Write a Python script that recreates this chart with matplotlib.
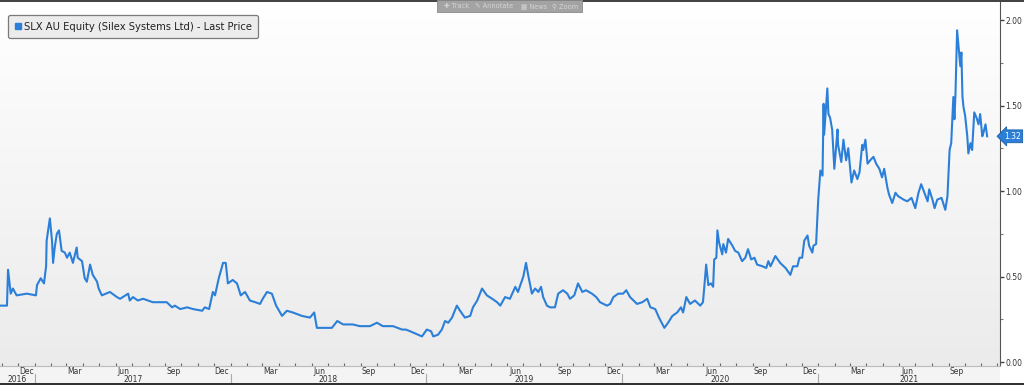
import numpy as np
import pandas as pd
import matplotlib
matplotlib.use('Agg')
import matplotlib.pyplot as plt
import matplotlib.dates as mdates
from matplotlib.colors import LinearSegmentedColormap
from matplotlib.lines import Line2D
from matplotlib.patches import Rectangle
from matplotlib.ticker import MultipleLocator, FormatStrFormatter

# SLX AU Equity last price
dates = [
    '2016-10-28', '2016-11-10', '2016-11-12', '2016-11-17', '2016-11-21', '2016-11-28',
    '2016-12-17', '2017-01-03', '2017-01-05', '2017-01-12', '2017-01-18', '2017-01-22',
    '2017-01-23', '2017-01-29', '2017-02-02', '2017-02-04', '2017-02-07', '2017-02-11',
    '2017-02-15', '2017-02-20', '2017-02-26', '2017-03-02', '2017-03-07', '2017-03-13',
    '2017-03-20', '2017-03-22', '2017-03-30', '2017-04-04', '2017-04-08', '2017-04-14',
    '2017-04-19', '2017-04-27', '2017-04-30', '2017-05-06', '2017-05-21', '2017-06-03',
    '2017-06-09', '2017-06-24', '2017-06-27', '2017-07-03', '2017-07-12', '2017-07-22',
    '2017-08-09', '2017-09-04', '2017-09-14', '2017-09-19', '2017-09-29', '2017-10-12',
    '2017-10-23', '2017-11-09', '2017-11-14', '2017-11-22', '2017-11-29', '2017-12-03',
    '2017-12-10', '2017-12-18', '2017-12-23', '2017-12-27', '2018-01-05', '2018-01-13',
    '2018-01-20', '2018-01-28', '2018-02-06', '2018-02-16', '2018-02-25', '2018-03-02',
    '2018-03-10', '2018-03-19', '2018-03-27', '2018-04-07', '2018-04-16', '2018-04-27',
    '2018-05-14', '2018-05-29', '2018-06-06', '2018-06-11', '2018-06-22', '2018-07-09',
    '2018-07-19', '2018-07-30', '2018-08-17', '2018-08-30', '2018-09-18', '2018-10-01',
    '2018-10-12', '2018-10-31', '2018-11-17', '2018-11-24', '2018-12-02', '2018-12-24',
    '2019-01-02', '2019-01-10', '2019-01-14', '2019-01-23', '2019-01-30', '2019-02-05',
    '2019-02-11', '2019-02-18', '2019-02-27', '2019-03-05', '2019-03-14', '2019-03-24',
    '2019-03-29', '2019-04-06', '2019-04-15', '2019-04-24', '2019-05-04', '2019-05-13',
    '2019-05-19', '2019-05-28', '2019-06-06', '2019-06-16', '2019-06-21', '2019-07-01',
    '2019-07-06', '2019-07-10', '2019-07-17', '2019-07-23', '2019-07-29', '2019-08-03',
    '2019-08-07', '2019-08-14', '2019-08-20', '2019-08-29', '2019-09-04', '2019-09-13',
    '2019-09-21', '2019-09-26', '2019-10-04', '2019-10-11', '2019-10-19', '2019-10-26',
    '2019-11-06', '2019-11-14', '2019-11-21', '2019-12-04', '2019-12-10', '2019-12-16',
    '2019-12-25', '2020-01-03', '2020-01-09', '2020-01-16', '2020-01-29', '2020-02-08',
    '2020-02-17', '2020-02-23', '2020-03-03', '2020-03-10', '2020-03-20', '2020-03-27',
    '2020-04-04', '2020-04-13', '2020-04-20', '2020-04-24', '2020-04-30', '2020-05-07',
    '2020-05-16', '2020-05-26', '2020-05-31', '2020-06-02', '2020-06-06', '2020-06-10',
    '2020-06-15', '2020-06-19', '2020-06-21', '2020-06-25', '2020-06-27', '2020-06-30',
    '2020-07-06', '2020-07-08', '2020-07-13', '2020-07-17', '2020-07-25', '2020-07-30',
    '2020-08-05', '2020-08-12', '2020-08-18', '2020-08-23', '2020-08-29', '2020-09-04',
    '2020-09-09', '2020-09-19', '2020-09-26', '2020-09-30', '2020-10-04', '2020-10-13',
    '2020-10-22', '2020-11-01', '2020-11-10', '2020-11-15', '2020-11-23', '2020-11-27',
    '2020-12-02', '2020-12-06', '2020-12-12', '2020-12-15', '2020-12-21', '2020-12-23',
    '2020-12-28', '2021-01-01', '2021-01-05', '2021-01-09', '2021-01-11', '2021-01-12',
    '2021-01-16', '2021-01-18', '2021-01-20', '2021-01-23', '2021-01-27', '2021-01-31',
    '2021-02-06', '2021-02-07', '2021-02-13', '2021-02-17', '2021-02-22', '2021-02-26',
    '2021-03-04', '2021-03-09', '2021-03-15', '2021-03-19', '2021-03-24', '2021-03-26',
    '2021-03-30', '2021-04-03', '2021-04-08', '2021-04-14', '2021-04-19', '2021-04-25',
    '2021-04-30', '2021-05-04', '2021-05-10', '2021-05-13', '2021-05-19', '2021-05-25',
    '2021-05-30', '2021-06-09', '2021-06-16', '2021-06-24', '2021-07-01', '2021-07-07',
    '2021-07-12', '2021-07-18', '2021-07-24', '2021-07-27', '2021-08-02', '2021-08-06',
    '2021-08-11', '2021-08-19', '2021-08-26', '2021-08-30', '2021-09-03', '2021-09-06',
    '2021-09-10', '2021-09-12', '2021-09-14', '2021-09-17', '2021-09-19', '2021-09-23',
    '2021-09-25', '2021-09-27', '2021-09-29', '2021-10-02', '2021-10-06', '2021-10-08',
    '2021-10-12', '2021-10-15', '2021-10-19', '2021-10-23', '2021-10-27', '2021-10-30',
    '2021-11-03', '2021-11-05', '2021-11-09', '2021-11-12',
]
prices = [
    0.33, 0.33, 0.54, 0.40, 0.43, 0.39,
    0.40, 0.39, 0.45, 0.49, 0.46, 0.56,
    0.71, 0.84, 0.71, 0.58, 0.67, 0.75,
    0.77, 0.65, 0.64, 0.61, 0.64, 0.58,
    0.67, 0.61, 0.59, 0.49, 0.47, 0.57,
    0.51, 0.47, 0.43, 0.39, 0.41, 0.38,
    0.37, 0.40, 0.36, 0.38, 0.36, 0.37,
    0.35, 0.35, 0.32, 0.33, 0.31, 0.32,
    0.31, 0.30, 0.32, 0.31, 0.41, 0.39,
    0.49, 0.58, 0.58, 0.46, 0.48, 0.46,
    0.39, 0.41, 0.36, 0.35, 0.34, 0.37,
    0.41, 0.40, 0.33, 0.27, 0.30, 0.29,
    0.27, 0.26, 0.29, 0.20, 0.20, 0.20,
    0.24, 0.22, 0.22, 0.21, 0.21, 0.23,
    0.21, 0.21, 0.19, 0.19, 0.18, 0.15,
    0.19, 0.18, 0.15, 0.16, 0.19, 0.24,
    0.23, 0.26, 0.33, 0.30, 0.26, 0.27,
    0.32, 0.36, 0.43, 0.39, 0.37, 0.35,
    0.33, 0.38, 0.37, 0.44, 0.41, 0.50,
    0.58, 0.51, 0.40, 0.43, 0.41, 0.44,
    0.38, 0.33, 0.32, 0.32, 0.40, 0.42,
    0.40, 0.37, 0.39, 0.46, 0.41, 0.42,
    0.40, 0.38, 0.35, 0.33, 0.34, 0.38,
    0.40, 0.40, 0.42, 0.38, 0.34, 0.35,
    0.37, 0.32, 0.31, 0.26, 0.20, 0.23,
    0.27, 0.29, 0.32, 0.29, 0.38, 0.34,
    0.36, 0.33, 0.35, 0.42, 0.57, 0.45,
    0.46, 0.44, 0.60, 0.61, 0.77, 0.70,
    0.63, 0.69, 0.64, 0.72, 0.68, 0.65,
    0.64, 0.59, 0.61, 0.66, 0.60, 0.61,
    0.57, 0.56, 0.55, 0.59, 0.56, 0.62,
    0.58, 0.55, 0.51, 0.56, 0.56, 0.61,
    0.61, 0.71, 0.74, 0.68, 0.64, 0.68,
    0.69, 0.95, 1.12, 1.09, 1.51, 1.33,
    1.51, 1.60, 1.45, 1.43, 1.36, 1.13,
    1.36, 1.27, 1.17, 1.30, 1.18, 1.25,
    1.05, 1.12, 1.07, 1.11, 1.27, 1.24,
    1.30, 1.16, 1.18, 1.20, 1.16, 1.13,
    1.08, 1.13, 1.02, 0.98, 0.93, 0.99,
    0.97, 0.95, 0.94, 0.96, 0.90, 0.99,
    1.04, 0.99, 0.94, 1.01, 0.95, 0.90,
    0.95, 0.96, 0.89, 0.97, 1.24, 1.28,
    1.55, 1.42, 1.57, 1.94, 1.87, 1.73,
    1.81, 1.55, 1.49, 1.44, 1.32, 1.22,
    1.28, 1.24, 1.46, 1.43, 1.39, 1.45,
    1.32, 1.34, 1.39, 1.32,
]
legend_label = 'SLX AU Equity (Silex Systems Ltd) - Last Price'
toolbar_items = ['\u271a Track', '\u270e Annotate', '\u25a6 News', '\u26b2 Zoom']

line_color = '#2b7fd8'
text_color = '#333333'

df = pd.DataFrame({'date': pd.to_datetime(dates), 'price': prices})

fig = plt.figure(figsize=(10.24, 3.85), dpi=100, facecolor='white')
ax = fig.add_axes([0, 19 / 385, 1000 / 1024, 366 / 385])

x0 = pd.Timestamp('2016-10-28')
x1 = pd.Timestamp('2021-12-06')
y0, y1 = -0.023, 2.117

# background gradient, white at the top to light grey at the bottom
cmap = LinearSegmentedColormap.from_list('bg', ['#ffffff', '#ebebeb'])
ax.imshow(np.linspace(1, 0, 256).reshape(-1, 1), cmap=cmap, aspect='auto', origin='lower',
          extent=[mdates.date2num(x0), mdates.date2num(x1), y0, y1], zorder=0)
ax.set_xlim(x0, x1)
ax.set_ylim(y0, y1)

ax.plot(df['date'], df['price'], color=line_color, lw=1.5, zorder=3)

# right axis
for s in ['left', 'top']:
    ax.spines[s].set_visible(False)
ax.spines['right'].set_color('#555555')
ax.spines['bottom'].set_color('#bbbbbb')
ax.yaxis.tick_right()
ax.yaxis.set_major_locator(MultipleLocator(0.5))
ax.yaxis.set_minor_locator(MultipleLocator(0.25))
ax.yaxis.set_major_formatter(FormatStrFormatter('%.2f'))
ax.tick_params(axis='y', which='major', length=3, width=1, colors='#444444',
               labelsize=5.5, pad=1, labelcolor=text_color)
ax.tick_params(axis='y', which='minor', length=2, width=0.8, colors='#777777')

# month ticks along the bottom, labels drawn by hand
ax.xaxis.set_major_locator(mdates.MonthLocator())
ax.xaxis.set_major_formatter(plt.NullFormatter())
ax.tick_params(axis='x', which='major', direction='in', length=2, width=0.8,
               colors='#666666')

# bottom band and window edges
fig.patches.append(Rectangle((0, 0), 1000 / 1024, 19 / 385, transform=fig.transFigure,
                             facecolor='#f4f4f4', edgecolor='none', zorder=-1))
fig.patches.append(Rectangle((0, 0), 1, 2 / 385, transform=fig.transFigure,
                             facecolor='#333333', edgecolor='none', zorder=5))
fig.patches.append(Rectangle((0, 1 - 1.5 / 385), 1, 1.5 / 385, transform=fig.transFigure,
                             facecolor='#444444', edgecolor='none', zorder=5))

trans = ax.get_xaxis_transform()
px = 1 / 366
for m in pd.date_range('2016-12-01', '2021-11-01', freq='3MS'):
    mid = m + pd.Timedelta(days=15)
    ax.text(mid, -5.5 * px, m.strftime('%b'), transform=trans, ha='center', va='center',
            fontsize=5.5, color=text_color, clip_on=False)

for yr in range(2016, 2022):
    a = max(pd.Timestamp(f'{yr}-01-01'), x0)
    b = min(pd.Timestamp(f'{yr + 1}-01-01'), x1)
    ax.text(a + (b - a) / 2, -13.5 * px, str(yr), transform=trans, ha='center',
            va='center', fontsize=5.5, color=text_color, clip_on=False)
    if yr > 2016:
        ax.plot([a, a], [-8 * px, -19 * px], transform=trans, color='#aaaaaa',
                lw=0.8, clip_on=False)

# legend
handle = Line2D([], [], marker='s', color=line_color, ls='none', markersize=5)
leg = ax.legend([handle], [legend_label], loc='upper left',
                bbox_to_anchor=(8 / 1000, 1 - 15 / 366), borderaxespad=0,
                fontsize=7.2, handlelength=0.6, handletextpad=0.3,
                borderpad=0.65, fancybox=True, framealpha=1)
leg.get_frame().set_facecolor('#ececec')
leg.get_frame().set_edgecolor('#7a7a7a')
leg.get_frame().set_linewidth(0.9)
leg.get_frame().set_boxstyle('round,pad=0,rounding_size=0.2')
for t in leg.get_texts():
    t.set_color('#222222')

# last price tag
last = df['price'].iloc[-1]
ax.text(1.004, last, f'{last:.2f}', transform=ax.get_yaxis_transform(),
        ha='left', va='center', fontsize=5.5, color='white', zorder=6,
        bbox=dict(boxstyle='larrow,pad=0.25', fc=line_color, ec='#1d5fa8', lw=0.6),
        clip_on=False)

# toolbar at the top
fig.patches.append(Rectangle((437 / 1024, 1 - 12 / 385), 145 / 1024, 12 / 385,
                             transform=fig.transFigure, facecolor='#a3a3a3',
                             edgecolor='#8a8a8a', lw=0.6, zorder=6))
for i, (label, xp) in enumerate(zip(toolbar_items, [457, 494, 534, 565])):
    fig.text(xp / 1024, 1 - 6.5 / 385, label, ha='center', va='center',
             fontsize=4.8, color='#d4d4d4', zorder=7)
    if i > 0:
        sep = [474, 514, 548][i - 1]
        fig.lines.append(Line2D([sep / 1024, sep / 1024], [1 - 11 / 385, 1 - 2 / 385],
                                transform=fig.transFigure, color='#8c8c8c', lw=0.6))

fig.savefig('out.png', dpi=100, facecolor=fig.get_facecolor())
